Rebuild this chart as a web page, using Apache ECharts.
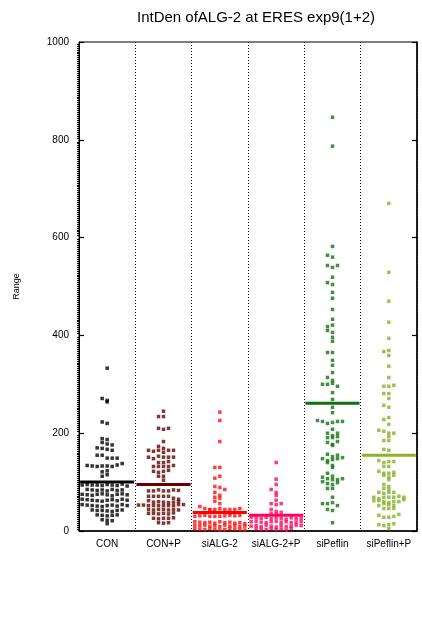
<!DOCTYPE html>
<html>
<head>
<meta charset="utf-8">
<script src="https://cdn.jsdelivr.net/npm/echarts@6/dist/echarts.min.js"></script>
<style>
html,body{margin:0;padding:0;background:#fff;}
#chart{width:422px;height:618px;}
</style>
</head>
<body>
<div id="chart"></div>
<script>
const titleText = 'IntDen ofALG-2 at ERES exp9(1+2)';
const yAxisName = 'Range';
const categories = ['CON', 'CON+P', 'siALG-2', 'siALG-2+P', 'siPeflin', 'siPeflin+P'];
const yTicks = { min: 0, max: 1000, interval: 200 };

const conValues = [333, 271, 264, 267, 223, 220, 189, 187, 181, 178, 176, 170, 169, 167, 165, 155, 155, 149, 149, 149,
  134, 133, 132, 133, 133, 132, 135, 138, 121, 123, 112, 115,
  94, 95, 94, 94, 93, 95, 94, 93, 96, 92,
  85, 84, 83, 84, 82, 85, 83, 84,
  75, 74, 73, 75, 76, 74, 72, 75, 76, 74,
  65, 64, 63, 62, 61, 63, 64, 62, 65, 63,
  54, 53, 52, 51, 50, 52, 53, 51, 54, 52,
  43, 42, 42, 41, 40, 42, 43,
  33, 32, 31, 32, 33,
  23, 22, 21,
  15];
const conPValues = [245, 234, 234, 210, 208, 210, 183, 173, 169, 165, 163, 165, 161, 165, 165, 151, 148, 153, 151, 151, 151,
  140, 140, 142, 132, 132, 132, 132, 134, 122, 120, 122, 124, 112, 112, 104,
  82, 82, 84, 82, 82, 84, 83,
  71, 71, 71, 71, 71,
  67, 65, 62,
  59, 60, 59, 58, 59, 60,
  53, 53, 52, 52, 52, 52, 52, 52, 54, 54,
  44, 43, 44, 44, 43, 44, 43,
  36, 36, 35, 36, 35, 37,
  26, 25, 26, 26, 27,
  17, 16, 17];
const siAlgValues = [243, 226, 183, 130, 130, 108, 112, 91, 89, 85, 79, 73, 69, 67, 61, 56, 50,
  46, 44, 44, 43, 46, 44, 44, 44, 46,
  39, 38, 38, 37,
  30, 31, 32, 30, 30, 30, 31, 32, 31, 32,
  19, 18, 17, 18, 16, 19, 17, 18, 16, 17, 15,
  12, 11, 12, 10, 11, 9, 12, 10, 11, 9, 10,
  5, 4, 3, 5, 4, 2, 3, 5, 4, 3, 2];
const siAlgPValues = [140, 106, 95, 85, 79, 73, 63, 56, 54, 56, 44, 40, 38, 36, 34,
  28, 27, 26, 28, 25, 27, 26, 24, 27, 25, 26,
  19, 20, 18, 17, 19, 20, 18, 19, 17, 18, 19,
  10, 11, 9, 12, 10, 8, 11, 9, 10, 12, 11,
  5, 4, 3, 5, 3, 4, 2, 5];
const siPeflinValues = [846, 787, 582, 564, 560, 543, 539, 543, 519, 508, 504, 488, 476, 453, 433, 418, 421, 410, 406, 396,
  388, 365, 365, 349, 339, 324, 314, 308, 300, 300, 302, 296, 283, 269,
  253, 242, 226, 224, 220, 222, 224, 224, 208, 200, 195, 191, 191, 193, 200, 181, 175, 177, 183,
  157, 152, 148, 144, 146, 148, 150, 155, 140, 134, 130, 118,
  110, 107, 105, 101, 105, 107, 112, 97, 95, 99, 87, 87, 69, 56, 56, 58, 52, 44, 42, 17];
const siPeflinPValues = [670, 529, 470, 427, 394, 367, 369, 359, 337, 314, 296, 296, 298, 281, 281, 271, 257, 253, 228, 232,
  218, 206, 204, 200, 200, 193, 185, 185, 167, 165,
  144, 140, 142, 142, 132, 132, 122, 118, 114, 110, 114, 118, 120, 105, 95, 87, 91, 85,
  79, 77, 79, 79, 69, 66, 62, 62, 69, 69, 69, 71, 60, 69, 58, 52, 56, 60, 60, 54, 64,
  46, 46, 46, 52, 32, 28, 28, 30, 34, 13, 11, 5, 13, 15];
const meanValues = [100, 95, 38, 32, 261, 155];

const groups = [conValues, conPValues, siAlgValues, siAlgPValues, siPeflinValues, siPeflinPValues];
const dotColors = ['#000000', '#5e0606', '#ff1010', '#ff0a5e', '#177317', '#8ab028'];
const lineColors = ['#000000', '#660000', '#ff0000', '#ff0066', '#0f6e0f', '#8db521'];

// layout constants
const GRID = { left: 79, right: 5, top: 42, bottom: 87 };
const CHART_W = 422;
const catPx = (CHART_W - GRID.left - GRID.right) / categories.length;
const STEP = 5 / catPx;     // column spacing of dots (5px) in category units
const BIN = 7;              // value range grouped in one row
const MAXCOLS = 11;

function swarm(values, g) {
  const idx = values.map((v, i) => i).sort((a, b) => values[b] - values[a] || a - b);
  const out = [];
  let i = 0;
  while (i < idx.length) {
    const top = values[idx[i]];
    const bin = [];
    while (i < idx.length && top - values[idx[i]] < BIN) { bin.push(idx[i]); i++; }
    bin.sort((a, b) => a - b);
    const n = Math.min(bin.length, MAXCOLS);
    const start = -Math.floor(n / 2);
    bin.forEach((k, j) => {
      const col = start + (j % n);
      out.push([g + col * STEP, values[k]]);
    });
  }
  return out;
}

const series = [];
groups.forEach((vals, g) => {
  series.push({
    type: 'scatter', xAxisIndex: 1, yAxisIndex: 0,
    symbol: 'rect', symbolSize: 3.5,
    itemStyle: { color: dotColors[g] },
    silent: true, animation: false,
    data: swarm(vals, g), z: 3
  });
  series.push({
    type: 'line', xAxisIndex: 1, yAxisIndex: 0,
    symbol: 'none', silent: true, animation: false,
    lineStyle: { color: lineColors[g], width: 3 },
    data: [[g - 0.48, meanValues[g]], [g + 0.48, meanValues[g]]], z: 5
  });
});

const FONT = 'Liberation Sans';
const chart = echarts.init(document.getElementById('chart'), null, { renderer: 'canvas' });
chart.setOption({
  animation: false,
  backgroundColor: '#ffffff',
  title: {
    text: titleText, left: 251, top: 5, textAlign: 'center',
    textStyle: { fontFamily: FONT, fontSize: 15, fontWeight: 'normal', color: '#000' }
  },
  grid: { left: GRID.left, right: GRID.right, top: GRID.top, bottom: GRID.bottom, show: true, borderColor: '#000', borderWidth: 1, backgroundColor: 'transparent' },
  xAxis: [
    {
      type: 'category', data: categories, position: 'bottom', boundaryGap: true,
      axisLine: { show: true, onZero: false, lineStyle: { color: '#000', width: 1.5 } },
      axisTick: { show: false, interval: 0 },
      axisLabel: { color: '#000', fontFamily: FONT, fontSize: 10, margin: 8, interval: 0 },
      splitLine: { show: true, interval: 0, lineStyle: { color: '#000', width: 1, type: [1, 2] } }
    },
    { type: 'value', min: -0.5, max: categories.length - 0.5, show: false }
  ],
  yAxis: [
    {
      type: 'value', min: yTicks.min, max: yTicks.max, interval: yTicks.interval, position: 'left',
      name: yAxisName, nameLocation: 'middle', nameGap: 58,
      nameTextStyle: { color: '#000', fontFamily: FONT, fontSize: 9 },
      axisLine: { show: true, onZero: false, lineStyle: { color: '#000', width: 1 } },
      axisTick: { show: true, inside: true, length: 5, lineStyle: { color: '#000', width: 1.2 } },
      axisLabel: { color: '#000', fontFamily: FONT, fontSize: 10, margin: 10, formatter: v => String(v) },
      splitLine: { show: false }
    },
    {
      type: 'value', min: yTicks.min, max: yTicks.max, interval: yTicks.interval, position: 'left',
      axisLine: { show: false, onZero: false }, axisLabel: { show: false },
      axisTick: { show: false, inside: false },
      minorTick: { show: true, splitNumber: 50, length: 2, lineStyle: { color: '#000', width: 1 } },
      splitLine: { show: false }
    },
    {
      type: 'value', min: yTicks.min, max: yTicks.max, interval: yTicks.interval, position: 'right',
      axisLine: { show: true, onZero: false, lineStyle: { color: '#000', width: 1.5 } },
      axisTick: { show: true, inside: true, length: 5, lineStyle: { color: '#000', width: 1.2 } },
      axisLabel: { show: false }, splitLine: { show: false }
    }
  ],
  series: series
});
</script>
</body>
</html>
